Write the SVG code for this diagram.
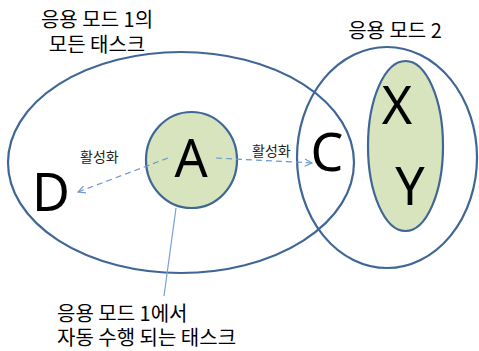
<svg xmlns="http://www.w3.org/2000/svg" width="479" height="351" viewBox="0 0 479 351">
<defs>
<style>
.ring{fill:none;stroke:#3F6696;stroke-width:2.2}
.task{fill:#D7E4BD;stroke:#3F6696;stroke-width:2.2}
.lbl{font-family:"Noto Sans CJK KR","Noto Sans",sans-serif;font-size:20px;fill:#000}
.small{font-family:"Noto Sans CJK KR","Noto Sans",sans-serif;font-size:14px;fill:#222}
.big{font-family:"Noto Sans","Liberation Sans",sans-serif;font-size:52px;fill:#000;text-anchor:middle}
.dash{stroke:#6C98D0;stroke-width:1.2;stroke-dasharray:6 4;fill:none}
.lead{stroke:#7AA0D4;stroke-width:1.2;fill:none}
</style>
<marker id="arr" viewBox="0 0 10 10" refX="9" refY="5" markerWidth="9" markerHeight="9" markerUnits="userSpaceOnUse" orient="auto">
<path d="M1,1 L9,5 L1,9" fill="none" stroke="#6C98D0" stroke-width="1.3"/>
</marker>
</defs>
<rect width="479" height="351" fill="#fff"/>
<g id="mode1">
<ellipse class="ring" cx="181" cy="162.5" rx="173" ry="110.5"/>
<text class="lbl" x="97" y="27" text-anchor="middle">응용 모드 1의</text>
<text class="lbl" x="97" y="52" text-anchor="middle">모든 태스크</text>
</g>
<g id="mode2">
<ellipse class="ring" cx="387" cy="157.5" rx="90" ry="110.5"/>
<text class="lbl" x="395" y="38" text-anchor="middle">응용 모드 2</text>
</g>
<g id="xy">
<ellipse class="task" cx="405.5" cy="146" rx="37.5" ry="85"/>
<text class="big" x="397" y="124">X</text>
<text class="big" x="410" y="205">Y</text>
</g>
<g id="a">
<ellipse class="task" cx="191.5" cy="160" rx="45.5" ry="48"/>
<text class="big" x="191" y="177">A</text>
</g>
<g id="c">
<text class="big" x="327" y="171">C</text>
</g>
<g id="d">
<text class="big" x="51" y="211">D</text>
</g>
<g id="connectors">
<line class="dash" x1="168" y1="158" x2="78" y2="192" marker-end="url(#arr)"/>
<line class="dash" x1="216" y1="158" x2="312" y2="163" marker-end="url(#arr)"/>
<line class="lead" x1="176" y1="208" x2="164" y2="296"/>
<text class="small" x="80" y="162">활성화</text>
<text class="small" x="252" y="156">활성화</text>
</g>
<g id="note">
<text class="lbl" x="57" y="321">응용 모드 1에서</text>
<text class="lbl" x="57" y="345">자동 수행 되는 태스크</text>
</g>
</svg>
